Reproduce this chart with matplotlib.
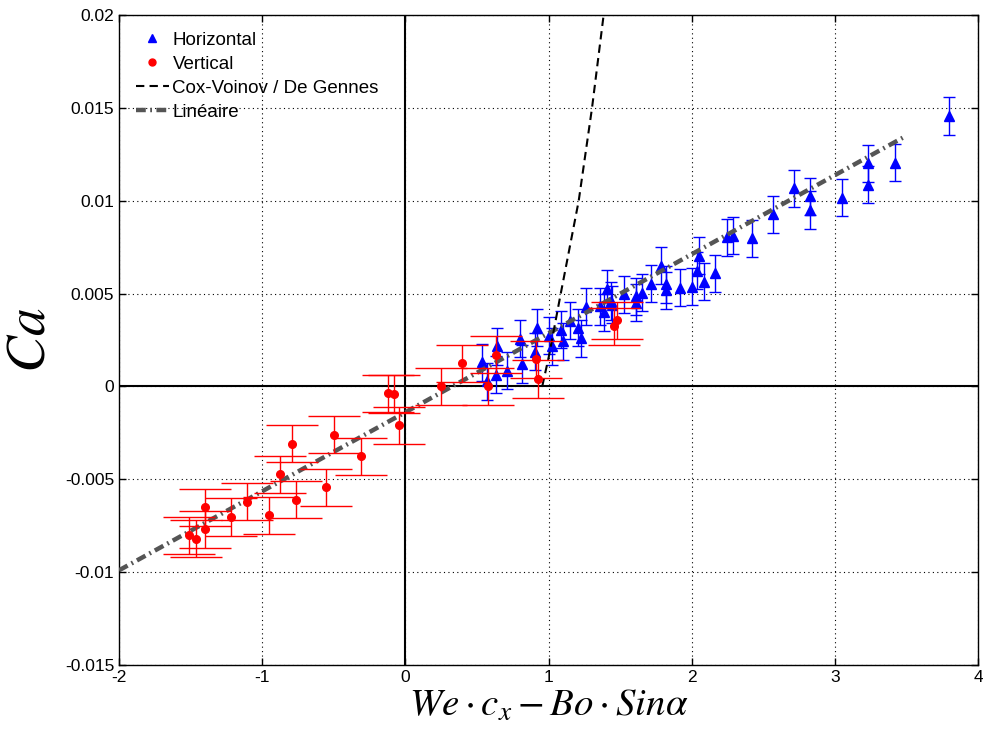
import matplotlib
matplotlib.use('Agg')
import matplotlib.pyplot as plt
from matplotlib.lines import Line2D
from matplotlib.ticker import FuncFormatter

plt.rcParams['font.family'] = ['Liberation Sans', 'DejaVu Sans']
plt.rcParams['mathtext.fontset'] = 'stix'
plt.rcParams['axes.unicode_minus'] = False

# Horizontal (blue triangles)
hor_x = [0.534, 0.569, 0.631, 0.638, 0.713, 0.80, 0.812, 0.905, 0.919, 1.005,
         1.021, 1.084, 1.102, 1.151, 1.204, 1.230, 1.264, 1.362, 1.385, 1.411,
         1.436, 1.44, 1.524, 1.61, 1.61, 1.656, 1.715, 1.786, 1.819, 1.819,
         1.916, 2.004, 2.035, 2.049, 2.084, 2.16, 2.244, 2.29, 2.422, 2.568,
         2.714, 2.83, 2.83, 3.048, 3.234, 3.234, 3.422, 3.797]
hor_y = [0.0013, 0.00027, 0.00063, 0.00216, 0.00085, 0.00256, 0.00121, 0.00188, 0.00316, 0.00274,
         0.00216, 0.00306, 0.00243, 0.00355, 0.00316, 0.0026, 0.00429, 0.00432, 0.0040, 0.00526,
         0.0046, 0.0044, 0.00496, 0.00486, 0.0045, 0.00505, 0.00553, 0.00649, 0.0055, 0.00517,
         0.00532, 0.00537, 0.00622, 0.00703, 0.00564, 0.00609, 0.00802, 0.00811, 0.00797, 0.00928,
         0.01067, 0.01024, 0.0095, 0.01016, 0.01202, 0.01087, 0.01204, 0.01456]
hor_err = 0.001

# Vertical (red dots)
ver_x = [-1.51, -1.459, -1.40, -1.40, -1.215, -1.104, -0.951, -0.879, -0.793, -0.765,
         -0.552, -0.498, -0.31, -0.12, -0.077, -0.046, 0.249, 0.395, 0.576, 0.631,
         0.914, 0.928, 1.455, 1.475]
ver_y = [-0.00802, -0.0082, -0.0077, -0.0065, -0.00703, -0.0062, -0.00694, -0.00472, -0.00308, -0.00609,
         -0.00544, -0.00261, -0.00375, -0.00038, -0.00041, -0.00209, 0.0, 0.00124, 0.0, 0.00171,
         0.00146, 0.0004, 0.00323, 0.00357]
ver_err = 0.001

# Cox-Voinov / De Gennes curve
cv_x = [0.956, 1.002, 1.083, 1.211, 1.304, 1.385]
cv_y = [0.0, 0.0016, 0.0049, 0.010, 0.015, 0.020]

# linear fit
lin_x = [-2.0, 3.5]
lin_y = [-0.0099, 0.0135]

lin_style = (0, (2.2, 1.0, 0.4, 1.0))
cv_style = (0, (4, 2.5))

fig = plt.figure(figsize=(9.83, 7.35), dpi=100)
ax = fig.add_axes([0.1211, 0.0952, 0.9949 - 0.1211, 0.9796 - 0.0952])

ax.axhline(0, color='k', lw=1.5, zorder=2)
ax.axvline(0, color='k', lw=1.5, zorder=2)

ax.errorbar(hor_x, hor_y, yerr=hor_err, fmt='none', ecolor='b', elinewidth=1,
            capsize=4.6, capthick=1, zorder=4)
ax.plot(hor_x, hor_y, '^', color='b', ms=6.5, zorder=5)

ax.plot(lin_x, lin_y, color='#555555', lw=3.2, linestyle=lin_style, zorder=5.5)
ax.plot(cv_x, cv_y, color='k', lw=1.5, linestyle=cv_style, zorder=5.5)

ax.errorbar(ver_x, ver_y, yerr=ver_err, fmt='none', ecolor='r', elinewidth=1,
            capsize=19, capthick=1, zorder=6)
ax.plot(ver_x, ver_y, 'o', color='r', ms=5.5, zorder=7)

ax.set_xlim(-2, 4)
ax.set_ylim(-0.015, 0.02)
ax.set_xticks([-2, -1, 0, 1, 2, 3, 4])
ax.set_yticks([-0.015, -0.01, -0.005, 0, 0.005, 0.01, 0.015, 0.02])
ax.yaxis.set_major_formatter(FuncFormatter(lambda v, p: '%g' % round(v, 4)))
ax.tick_params(direction='in', top=True, right=True, length=5, labelsize=12.5, width=1)
ax.grid(True, color='k', linestyle=(0, (1, 3)), lw=0.8)
for s in ax.spines.values():
    s.set_linewidth(1)

ax.set_xlabel(r'$We\cdot c_x - Bo\cdot Sin\alpha$', fontsize=28, labelpad=2)
ax.set_ylabel(r'$Ca$', fontsize=40, labelpad=6)

handles = [
    Line2D([], [], marker='^', color='b', ls='none', ms=6),
    Line2D([], [], marker='o', color='r', ls='none', ms=5),
    Line2D([], [], color='k', lw=1.5, linestyle=cv_style),
    Line2D([], [], color='#555555', lw=3.2, linestyle=lin_style),
]
labels = ['Horizontal', 'Vertical', 'Cox-Voinov / De Gennes', 'Linéaire']
ax.legend(handles, labels, loc='upper left', frameon=False, fontsize=13.5,
          handlelength=1.75, handletextpad=0.2, labelspacing=0.36,
          borderaxespad=0.35, borderpad=0.55)

fig.savefig('out.png', dpi=100)
